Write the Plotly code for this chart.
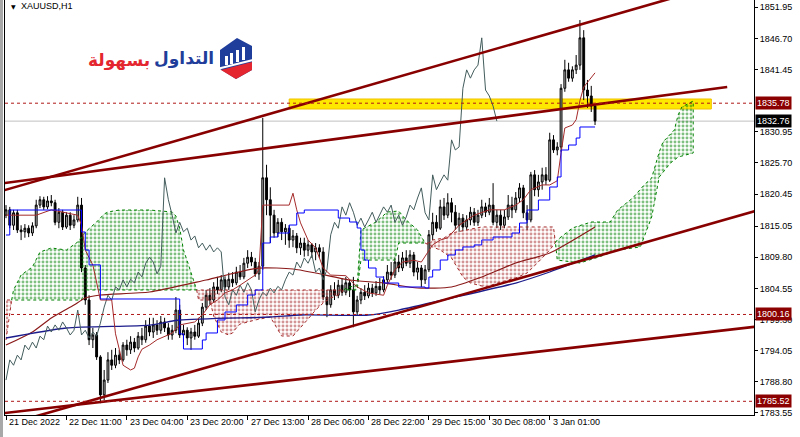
import plotly.graph_objects as go

# ---------------- data ----------------
bars = list(range(157))
opens = [1816.9,1817.8,1815.2,1817.3,1814.4,1814.1,1814.7,1813.9,1815.1,1818.6,
         1819.5,1818.3,1819.3,1819.0,1815.7,1817.4,1814.9,1816.9,1815.2,1816.1,
         1818.6,1808.0,1802.6,1795.9,1796.7,1793.0,1786.6,1789.1,1792.5,1791.6,
         1793.3,1792.5,1795.0,1794.2,1795.5,1794.5,1796.5,1795.9,1798.2,1797.2,
         1798.4,1797.5,1798.9,1797.9,1796.7,1797.5,1800.9,1796.7,1797.5,1796.2,
         1797.2,1796.5,1798.7,1801.4,1803.4,1802.6,1804.8,1804.3,1806.0,1804.8,
         1806.1,1805.5,1807.3,1806.5,1808.8,1809.8,1809.0,1807.0,1808.3,1823.2,
         1819.5,1816.9,1813.9,1815.7,1814.1,1814.7,1812.7,1813.4,1811.4,1812.2,
         1811.0,1811.9,1810.7,1811.4,1810.7,1803.1,1801.8,1804.3,1803.4,1805.1,
         1803.9,1805.5,1804.3,1800.6,1802.6,1803.9,1803.3,1804.6,1803.8,1804.9,
         1804.3,1806.0,1807.3,1806.8,1809.0,1808.0,1809.7,1808.8,1810.2,1807.3,
         1808.0,1806.0,1807.7,1813.6,1815.7,1814.7,1818.3,1816.9,1819.0,1817.4,
         1815.2,1816.4,1814.9,1816.1,1817.4,1815.7,1816.9,1818.3,1817.4,1818.6,
         1815.7,1816.9,1815.2,1816.6,1818.6,1817.8,1819.8,1821.5,1817.3,1816.1,
         1823.7,1821.2,1822.5,1823.7,1822.8,1829.6,1827.9,1828.4,1838.3,1841.4,
         1840.0,1841.4,1842.2,1846.8,1838.0,1837.0,1835.3]
highs = [1818.6,1818.3,1817.8,1817.8,1815.2,1815.4,1815.2,1815.7,1819.5,1820.1,
         1820.0,1820.1,1820.3,1819.5,1818.1,1817.8,1817.4,1817.4,1816.9,1820.0,
         1819.8,1808.5,1803.4,1797.9,1797.2,1793.3,1790.8,1793.8,1794.2,1794.5,
         1794.2,1795.5,1795.9,1796.5,1796.2,1797.2,1797.9,1799.2,1799.6,1799.6,
         1799.2,1799.9,1799.6,1798.7,1798.4,1803.1,1801.8,1798.4,1798.0,1797.9,
         1798.4,1799.6,1802.1,1804.3,1804.6,1805.6,1806.5,1806.8,1806.6,1807.2,
         1807.3,1808.2,1808.5,1809.7,1811.0,1810.7,1809.7,1809.0,1833.3,1825.4,
         1821.6,1817.8,1816.4,1816.4,1815.4,1815.2,1814.4,1813.9,1813.1,1813.1,
         1812.7,1812.2,1812.2,1812.0,1811.5,1804.3,1805.1,1805.6,1806.0,1806.3,
         1806.5,1806.0,1806.5,1803.3,1804.6,1805.1,1805.5,1805.3,1805.8,1806.3,
         1806.6,1808.5,1809.0,1809.7,1810.2,1810.7,1811.0,1811.0,1810.7,1809.0,
         1808.5,1808.5,1814.4,1817.3,1816.9,1819.5,1819.8,1820.6,1819.8,1818.6,
         1817.3,1817.1,1816.9,1818.3,1818.1,1817.8,1819.5,1819.0,1819.8,1822.3,
         1817.8,1817.8,1817.8,1820.3,1820.0,1820.8,1822.3,1822.0,1818.6,1824.2,
         1824.5,1823.7,1824.9,1825.0,1830.8,1830.4,1829.2,1839.0,1843.1,1842.6,
         1842.0,1843.9,1849.8,1848.1,1839.7,1838.7,1835.6]
lows = [1816.4,1814.7,1814.4,1813.9,1812.7,1813.1,1813.2,1813.4,1814.7,1818.1,
        1817.8,1817.9,1818.4,1815.2,1814.7,1814.4,1814.6,1814.4,1814.7,1815.7,
        1807.3,1801.8,1795.0,1794.5,1792.5,1785.2,1785.7,1788.6,1790.8,1791.1,
        1791.8,1792.2,1793.2,1793.5,1793.8,1794.2,1795.0,1795.4,1796.5,1796.2,
        1796.7,1796.9,1797.2,1795.9,1795.9,1797.0,1796.2,1795.5,1795.0,1794.2,
        1795.9,1796.2,1798.2,1800.9,1801.8,1802.1,1803.6,1803.9,1804.3,1804.3,
        1804.8,1805.1,1806.0,1806.1,1808.0,1808.3,1806.5,1806.0,1807.7,1816.9,
        1812.2,1813.1,1813.2,1812.7,1811.9,1811.4,1811.5,1810.5,1810.2,1809.9,
        1810.0,1809.7,1809.3,1809.7,1802.6,1799.7,1801.3,1802.6,1802.9,1803.3,
        1803.4,1803.1,1798.0,1799.9,1801.9,1802.6,1802.9,1803.1,1803.3,1803.6,
        1803.9,1805.5,1806.0,1806.3,1807.3,1807.5,1808.3,1808.0,1806.6,1806.0,
        1804.8,1805.3,1807.3,1812.7,1814.1,1814.4,1816.1,1816.4,1815.7,1814.4,
        1814.1,1814.2,1814.4,1815.2,1815.1,1815.1,1816.4,1816.6,1816.9,1815.2,
        1814.7,1814.4,1814.7,1816.1,1816.4,1817.3,1819.1,1816.4,1814.4,1815.7,
        1820.1,1820.0,1821.2,1822.0,1822.5,1827.4,1827.0,1827.6,1837.7,1839.4,
        1839.4,1840.7,1841.4,1836.3,1835.0,1834.3,1832.1]
closes = [1817.8,1815.2,1817.3,1814.4,1814.1,1814.7,1813.9,1815.1,1818.6,1819.5,
          1818.3,1819.3,1819.0,1815.7,1817.4,1814.9,1816.9,1815.2,1816.1,1818.6,
          1808.0,1802.6,1795.9,1796.7,1793.0,1786.6,1789.1,1792.5,1791.6,1793.3,
          1792.5,1795.0,1794.2,1795.5,1794.5,1796.5,1795.9,1798.2,1797.2,1798.4,
          1797.5,1798.9,1797.9,1796.7,1797.5,1800.9,1796.7,1797.5,1796.2,1797.2,
          1796.5,1798.7,1801.4,1803.4,1802.6,1804.8,1804.3,1806.0,1804.8,1806.1,
          1805.5,1807.3,1806.5,1808.8,1809.8,1809.0,1807.0,1808.3,1823.2,1819.5,
          1816.9,1813.9,1815.7,1814.1,1814.7,1812.7,1813.4,1811.4,1812.2,1811.0,
          1811.9,1810.7,1811.4,1810.7,1803.1,1801.8,1804.3,1803.4,1805.1,1803.9,
          1805.5,1804.3,1800.6,1802.6,1803.9,1803.3,1804.6,1803.8,1804.9,1804.3,
          1806.0,1807.3,1806.8,1809.0,1808.0,1809.7,1808.8,1810.2,1807.3,1808.0,
          1806.0,1807.7,1813.6,1815.7,1814.7,1818.3,1816.9,1819.0,1817.4,1815.2,
          1816.4,1814.9,1816.1,1817.4,1815.7,1816.9,1818.3,1817.4,1818.6,1815.7,
          1816.9,1815.2,1816.6,1818.6,1817.8,1819.8,1821.5,1817.3,1816.1,1823.7,
          1821.2,1822.5,1823.7,1822.8,1829.6,1827.9,1828.4,1838.3,1841.4,1840.0,
          1841.4,1842.2,1846.8,1838.0,1837.0,1835.3,1832.76]

tenkan_bars = [0,8,12,19,20,21,23,25,28,29,30,31,33,34,35,36,38,40,44,46,50,52,54,56,58,
               60,62,64,66,67,68,75,76,77,78,80,82,84,86,90,93,96,100,101,103,105,108,110,
               112,113,115,117,120,124,128,132,135,137,139,142,144,146,147,148,150,151,152,153,156]
tenkan_vals = [1816.9,1816.9,1817.8,1816.9,1815.2,1811.0,1808.5,1802.6,1802.6,1796.9,
               1794.3,1791.6,1790.8,1791.1,1793.0,1794.3,1795.0,1795.9,1797.0,1798.4,
               1798.9,1800.1,1801.8,1802.6,1803.8,1804.3,1805.1,1806.0,1806.8,1807.7,
               1818.6,1818.6,1820.6,1817.8,1815.6,1812.7,1811.4,1808.0,1806.8,1806.7,
               1804.8,1803.8,1803.4,1805.1,1807.7,1809.0,1809.3,1809.0,1811.0,1811.9,
               1812.7,1813.1,1815.2,1816.9,1817.8,1817.8,1818.6,1819.5,1821.2,1822.0,
               1822.0,1822.7,1827.4,1831.6,1832.1,1833.0,1836.2,1838.5,1840.9]

kijun_bars = [0,1,20,21,22,25,46,47,52,53,56,58,61,64,66,68,70,72,75,77,79,88,91,93,94,
              95,96,98,100,104,111,112,113,115,117,119,121,124,126,129,134,136,138,141,144,
              146,147,149,151,152,156]
kijun_vals = [1813.56,1817.77,1814.07,1811.03,1808.52,1802.77,1796.87,1794.34,1795.86,1797.04,
              1799.23,1800.58,1801.76,1803.44,1804.29,1812.21,1813.22,1813.89,1815.24,1817.27,
              1817.77,1816.42,1815.75,1814.74,1811.03,1809.34,1807.99,1806.47,1805.46,1804.79,
              1804.62,1806.47,1807.66,1809.34,1810.19,1811.03,1811.54,1811.88,1812.72,1813.22,
              1813.89,1815.58,1817.77,1819.46,1821.65,1823.34,1827.89,1828.73,1829.91,1831.77,
              1831.77]

chikou_shift = 26

span_a_bars = [0,1,1.5,2,4,7,9,12,16,19,21,24,26,27,30,38,44,45,46,47,48,50,50.5,51,54,55,56,57,
               59,60,61,62,64,66,70,72,73,76,78,80,82,84,86,88,89.5,90,93,94,98,101,104,106,109,
               111,113,115,118,121,123,127,131,135,138,141,144,145.5,146,150,155,160,162,166,169,
               171,173,174,177,178,179,182]
span_a_vals = [1795.86,1800.41,1802.60,1804.29,1806.81,1808.16,1810.69,1811.37,1811.03,1812.38,
               1814.07,1815.75,1817.10,1817.44,1817.77,1817.77,1817.44,1816.76,1814.74,1811.03,
               1809.18,1805.47,1804.29,1802.60,1802.60,1799.90,1798.55,1797.20,1796.70,1797.04,
               1797.88,1798.55,1798.89,1799.23,1799.73,1797.54,1796.53,1796.53,1797.88,1799.39,
               1800.91,1802.09,1802.93,1803.44,1804.29,1804.62,1805.13,1814.40,1815.75,1817.44,
               1817.60,1816.09,1814.40,1812.21,1811.54,1811.03,1809.68,1806.48,1805.47,1804.79,
               1805.63,1806.31,1807.15,1809.01,1811.03,1812.29,1812.72,1814.74,1815.75,1815.75,
               1817.77,1819.80,1821.99,1823.17,1827.55,1829.24,1831.26,1833.79,1835.14,1836.15]
span_b_bars = [0,1.5,20,21,50.5,89.5,93,94,103,104,111,112,113,116,118,122,126,145,145.5,146,
               152,157,162,168,171,173,176,178,182]
span_b_vals = [1802.60,1802.60,1802.60,1804.29,1804.29,1804.29,1804.29,1809.34,1809.34,1812.21,
               1812.21,1812.21,1812.72,1813.05,1813.90,1814.40,1814.91,1814.91,1812.29,1809.34,
               1808.84,1809.85,1811.03,1811.54,1816.59,1823.34,1825.70,1826.71,1827.39]
cloud_segments = [(0, 1.5, "down"), (1.5, 50.5, "up"), (50.5, 89.5, "down"),
                  (89.5, 111, "up"), (111, 145.5, "down"), (145.5, 182, "up")]

ma_red_bars = [0,7,12,18,21,25,38,53,67,76,82,91,100,109,118,126,135,144,156]
ma_red_vals = [1795.01,1797.21,1799.56,1801.76,1802.93,1803.44,1803.95,1805.97,1807.99,1807.83,
               1807.15,1805.97,1805.47,1804.62,1804.79,1806.48,1808.84,1810.52,1814.91]
ma_navy_bars = [0,16,38,46,70,78,96,104,118,135,144,156]
ma_navy_vals = [1796.19,1797.88,1798.38,1799.23,1799.73,1800.07,1800.07,1800.91,1802.93,
                1805.46,1807.32,1810.19]

trend_upper_steep_bars = [-2, 190]
trend_upper_steep_prices = [1820.83, 1855.98]
trend_upper_flat_bars = [-2, 191]
trend_upper_flat_prices = [1822.18, 1838.51]
trend_lower_steep_bars = [0, 200]
trend_lower_steep_prices = [1781.56, 1817.88]
trend_lower_flat_bars = [-2, 200]
trend_lower_flat_prices = [1783.43, 1798.21]

level_prices = [1835.78, 1800.16, 1785.52]
current_price = 1832.76
zone_bars = [75.0, 186.8]
zone_prices = [1834.80, 1836.49]

ytick_vals = [1851.95, 1846.70, 1841.45, 1830.95, 1825.70, 1820.45, 1815.05,
              1809.80, 1804.55, 1799.30, 1794.05, 1788.80, 1783.55]
xtick_bars = [0, 16, 32, 48, 64, 80, 96, 112, 128, 144]
xtick_labels = ["21 Dec 2022", "22 Dec 11:00", "23 Dec 04:00", "23 Dec 20:00", "27 Dec 13:00",
                "28 Dec 06:00", "28 Dec 22:00", "29 Dec 15:00", "30 Dec 08:00", "3 Jan 01:00"]

# ---------------- figure ----------------
W, H = 800, 437
ML, MR, MT, MB = 5, 46, 0, 22
PW, PH = W - ML - MR, H - MT - MB


def px(x):
    return (x - ML) / PW


def py(y):
    return (H - MB - y) / PH


fig = go.Figure()

# Ichimoku cloud
for s, e, kind in cloud_segments:
    ax = [b for b in span_a_bars if s <= b <= e]
    ay = [v for b, v in zip(span_a_bars, span_a_vals) if s <= b <= e]
    bx = [b for b in span_b_bars if s <= b <= e]
    by = [v for b, v in zip(span_b_bars, span_b_vals) if s <= b <= e]
    col = "#008000" if kind == "up" else "#a52a2a"
    fig.add_trace(go.Scatter(
        x=ax + bx[::-1], y=ay + by[::-1], mode="lines", fill="toself",
        fillcolor="rgba(0,0,0,0)",
        fillpattern=dict(shape=".", fgcolor=col, bgcolor="rgba(0,0,0,0)",
                         size=4, solidity=0.42, fillmode="overlay"),
        line=dict(color=col, width=1, dash="dot"), hoverinfo="skip"))

# moving averages
fig.add_trace(go.Scatter(x=ma_red_bars, y=ma_red_vals, mode="lines",
                         line=dict(color="#8b1a1a", width=1.2, shape="spline", smoothing=0.6),
                         hoverinfo="skip"))
fig.add_trace(go.Scatter(x=ma_navy_bars, y=ma_navy_vals, mode="lines",
                         line=dict(color="#1c1c8c", width=1.3, shape="spline", smoothing=0.6),
                         hoverinfo="skip"))

# chikou span (close plotted 26 bars back)
fig.add_trace(go.Scatter(x=[b - chikou_shift for b in bars[chikou_shift:]],
                         y=closes[chikou_shift:], mode="lines",
                         line=dict(color="#435c5c", width=1), hoverinfo="skip"))
# tenkan / kijun
fig.add_trace(go.Scatter(x=tenkan_bars, y=tenkan_vals, mode="lines",
                         line=dict(color="#a52a2a", width=1), hoverinfo="skip"))
fig.add_trace(go.Scatter(x=kijun_bars, y=kijun_vals, mode="lines",
                         line=dict(color="#0000ff", width=1, shape="hv"), hoverinfo="skip"))

# candles
fig.add_trace(go.Candlestick(
    x=bars, open=opens, high=highs, low=lows, close=closes,
    increasing=dict(line=dict(color="#000000", width=1), fillcolor="#b4b4b4"),
    decreasing=dict(line=dict(color="#000000", width=1), fillcolor="#000000"),
    whiskerwidth=0, hoverinfo="skip"))

# trend lines
for tx, ty in [(trend_upper_steep_bars, trend_upper_steep_prices),
               (trend_upper_flat_bars, trend_upper_flat_prices),
               (trend_lower_steep_bars, trend_lower_steep_prices),
               (trend_lower_flat_bars, trend_lower_flat_prices)]:
    fig.add_trace(go.Scatter(x=tx, y=ty, mode="lines",
                             line=dict(color="#880000", width=2.6), hoverinfo="skip"))

shapes = []
# yellow zone
shapes.append(dict(type="rect", xref="x", yref="y", x0=zone_bars[0], x1=zone_bars[1],
                   y0=zone_prices[0], y1=zone_prices[1], fillcolor="#ffe800",
                   line=dict(color="#f2c200", width=1), layer="below"))
# current price line
shapes.append(dict(type="line", xref="paper", yref="y", x0=0, x1=1, y0=current_price,
                   y1=current_price, line=dict(color="#c0c0c0", width=1), layer="below"))
# level lines
for lp in level_prices:
    shapes.append(dict(type="line", xref="paper", yref="y", x0=0, x1=1, y0=lp, y1=lp,
                       line=dict(color="#b01818", width=1, dash="3px,3px")))
# left gray stripe
shapes.append(dict(type="rect", xref="paper", yref="paper", x0=px(0), x1=px(3),
                   y0=py(437), y1=py(0), fillcolor="#a8a8a8", line=dict(width=0)))

# logo icon
def poly(pts):
    return "M " + " L ".join(f"{px(a):.5f},{py(b):.5f}" for a, b in pts) + " Z"

shapes.append(dict(type="path", xref="paper", yref="paper",
                   path=poly([(220, 50), (237, 38), (252, 46), (252, 70), (236, 79), (220, 69)]),
                   fillcolor="#1f3d9a", line=dict(width=0)))
shapes.append(dict(type="path", xref="paper", yref="paper",
                   path=poly([(221, 70), (252, 62), (252, 70), (236, 79)]),
                   fillcolor="#e3262f", line=dict(width=0)))
shapes.append(dict(type="line", xref="paper", yref="paper", x0=px(219), y0=py(68.5),
                   x1=px(253), y1=py(60), line=dict(color="white", width=2)))
for (a0, b0, a1, b1) in [(225, 56, 228, 65), (230, 53, 233, 64), (236, 50, 239, 62), (242, 47, 245, 60)]:
    shapes.append(dict(type="rect", xref="paper", yref="paper", x0=px(a0), x1=px(a1),
                       y0=py(b1), y1=py(b0), fillcolor="white", line=dict(width=0)))

annotations = []
# x labels (left aligned after the tick, as in MT4)
for tb, tl in zip(xtick_bars, xtick_labels):
    annotations.append(dict(x=tb, y=py(422), xref="x", yref="paper", text=tl,
                            showarrow=False, xanchor="left", yanchor="middle", xshift=1,
                            font=dict(family="Liberation Sans", size=9, color="#000000")))
# price boxes
for lp, bg in [(level_prices[0], "#8b0000"), (current_price, "#000000"),
               (level_prices[1], "#8b0000"), (level_prices[2], "#8b0000")]:
    annotations.append(dict(x=1, y=lp, xref="paper", yref="y", text=f"{lp:.2f}",
                            showarrow=False, xanchor="left", yanchor="middle", xshift=1,
                            bgcolor=bg, borderpad=1,
                            font=dict(family="Liberation Sans", size=9, color="#ffffff")))
# title
annotations.append(dict(x=px(9), y=py(6), xref="paper", yref="paper", text="▼",
                        showarrow=False, xanchor="left", yanchor="middle",
                        font=dict(family="DejaVu Sans", size=6, color="#000000")))
annotations.append(dict(x=px(19), y=py(6), xref="paper", yref="paper", text="XAUUSD,H1",
                        showarrow=False, xanchor="left", yanchor="middle",
                        font=dict(family="Liberation Sans", size=9, color="#000000")))
# logo text
annotations.append(dict(x=px(216), y=py(59), xref="paper", yref="paper", text="<b>التداول</b>",
                        showarrow=False, xanchor="right", yanchor="middle",
                        font=dict(family="DejaVu Sans", size=17, color="#1f3d9a")))
annotations.append(dict(x=px(152), y=py(60), xref="paper", yref="paper", text="<b>بسهولة</b>",
                        showarrow=False, xanchor="right", yanchor="middle",
                        font=dict(family="DejaVu Sans", size=17, color="#e3262f")))

fig.update_layout(
    width=W, height=H, margin=dict(l=ML, r=MR, t=MT, b=MB),
    paper_bgcolor="white", plot_bgcolor="white", showlegend=False,
    shapes=shapes, annotations=annotations, hovermode=False,
    xaxis=dict(range=[-0.265, 198.1], showgrid=False, zeroline=False,
               rangeslider=dict(visible=False), tickmode="array", tickvals=xtick_bars,
               showticklabels=False, ticks="outside", ticklen=4, tickcolor="#000000",
               showline=True, linecolor="#000000", linewidth=1),
    yaxis=dict(range=[1783.21, 1853.18], side="right", showgrid=False, zeroline=False,
               tickmode="array", tickvals=ytick_vals, ticktext=[f"{v:.2f}" for v in ytick_vals],
               ticks="outside", ticklen=3, tickcolor="#000000",
               tickfont=dict(family="Liberation Sans", size=9, color="#000000"),
               showline=True, linecolor="#000000", linewidth=1, mirror=True),
)

fig.write_html("out.html", config=dict(displayModeBar=False),
               post_script="document.body.style.margin='0';document.body.style.padding='0';"
                           "document.body.style.overflow='hidden';")
